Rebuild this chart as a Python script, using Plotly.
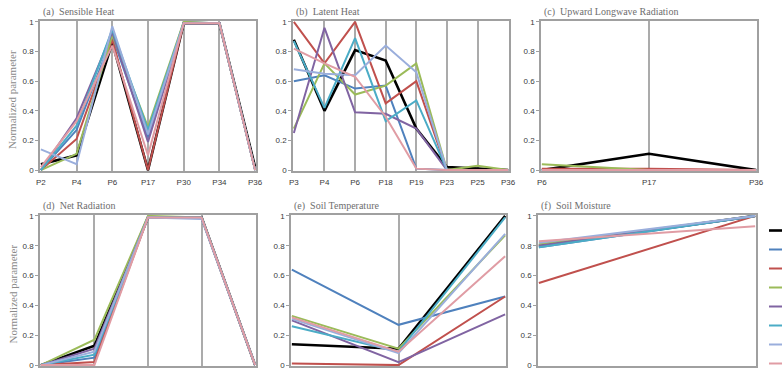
import plotly.graph_objects as go

# ---------------- data ----------------
# legend labels are cut off in the reference, so entries carry no visible text
series_names = ["", " ", "  ", "   ", "    ", "     ", "      ", "       "]
series_colors = ["#000000", "#4F81BD", "#C0504D", "#9BBB59",
                 "#8064A2", "#4BACC6", "#9AAEDC", "#E09CA4"]

cats_a = ["P2", "P4", "P6", "P17", "P30", "P34", "P36"]
sensible_heat = [
    [0.04, 0.10, 0.86, 0.00, 0.99, 0.99, 0.02],
    [0.00, 0.27, 0.90, 0.22, 1.00, 0.99, 0.00],
    [0.00, 0.21, 0.88, 0.00, 0.99, 0.99, 0.00],
    [0.00, 0.11, 0.91, 0.29, 1.00, 0.99, 0.00],
    [0.00, 0.35, 0.93, 0.19, 0.99, 0.99, 0.00],
    [0.00, 0.30, 0.95, 0.27, 0.99, 0.99, 0.00],
    [0.14, 0.04, 0.97, 0.24, 0.99, 0.99, 0.00],
    [0.02, 0.33, 0.84, 0.10, 0.99, 0.99, 0.00],
]

cats_b = ["P3", "P4", "P6", "P18", "P19", "P23", "P25", "P36"]
latent_heat = [
    [0.88, 0.40, 0.81, 0.74, 0.28, 0.02, 0.01, 0.00],
    [0.60, 0.64, 0.55, 0.57, 0.01, 0.00, 0.00, 0.00],
    [1.00, 0.72, 1.00, 0.45, 0.60, 0.00, 0.00, 0.00],
    [0.28, 0.72, 0.51, 0.57, 0.72, 0.00, 0.03, 0.00],
    [0.25, 0.96, 0.39, 0.38, 0.28, 0.00, 0.00, 0.00],
    [0.87, 0.42, 0.89, 0.33, 0.47, 0.00, 0.00, 0.00],
    [0.68, 0.65, 0.64, 0.84, 0.66, 0.00, 0.00, 0.00],
    [0.82, 0.72, 0.63, 0.36, 0.01, 0.00, 0.00, 0.00],
]

cats_c = ["P6", "P17", "P36"]
upward_longwave = [
    [0.00, 0.11, 0.00],
    [0.00, 0.00, 0.00],
    [0.01, 0.01, 0.00],
    [0.04, 0.00, 0.00],
    [0.00, 0.00, 0.00],
    [0.00, 0.00, 0.00],
    [0.00, 0.00, 0.00],
    [0.00, 0.00, 0.00],
]

cats_d = ["P2", "P17", "P30", "P34", "P36"]
net_radiation = [
    [0.00, 0.13, 0.99, 0.99, 0.00],
    [0.00, 0.05, 0.99, 0.99, 0.00],
    [0.00, 0.02, 0.99, 0.99, 0.00],
    [0.00, 0.17, 1.00, 0.99, 0.00],
    [0.00, 0.11, 0.99, 0.99, 0.00],
    [0.00, 0.07, 0.99, 0.99, 0.00],
    [0.00, 0.09, 0.99, 0.98, 0.00],
    [0.00, 0.00, 0.99, 0.99, 0.00],
]

cats_e = ["P3", "P6", "P36"]
soil_temperature = [
    [0.14, 0.11, 1.00],
    [0.64, 0.27, 0.46],
    [0.01, 0.00, 0.46],
    [0.33, 0.11, 0.87],
    [0.30, 0.02, 0.34],
    [0.26, 0.09, 0.99],
    [0.31, 0.08, 0.88],
    [0.32, 0.09, 0.73],
]

cats_f = ["P3", "P6"]
soil_moisture = [
    [0.80, 1.00],
    [0.79, 1.00],
    [0.55, 1.00],
    [0.81, 1.00],
    [0.80, 1.00],
    [0.79, 1.00],
    [0.82, 1.00],
    [0.83, 0.93],
]

panel_titles = ["(a)  Sensible Heat", "(b)  Latent Heat",
                "(c)  Upward Longwave Radiation", "(d)  Net Radiation",
                "(e)  Soil Temperature", "(f)  Soil Moisture"]
y_ticks = [0, 0.2, 0.4, 0.6, 0.8, 1]
y_ticktext = ["0", "0.2", "0.4", "0.6", "0.8", "1"]

# ---------------- layout geometry (pixels) ----------------
W, H = 782, 375
panels = [
    (cats_a, sensible_heat, (40, 256), (21, 171)),
    (cats_b, latent_heat, (293, 509), (21, 171)),
    (cats_c, upward_longwave, (541, 757), (21, 171)),
    (cats_d, net_radiation, (40, 256), (215, 366)),
    (cats_e, soil_temperature, (291, 506), (215, 366)),
    (cats_f, soil_moisture, (538, 756), (215, 366)),
]

fig = go.Figure()
layout = dict(
    width=W, height=H,
    margin=dict(l=0, r=0, t=0, b=0, autoexpand=False),
    paper_bgcolor="white", plot_bgcolor="white",
    showlegend=True,
    legend=dict(x=764 / W, y=1 - 216 / H, xanchor="left", yanchor="top",
                font=dict(family="Liberation Sans", size=6, color="#333"),
                bgcolor="rgba(0,0,0,0)", itemwidth=30, tracegroupgap=0),
)
annotations = []
tick_font = dict(family="Liberation Sans", size=8, color="#3a3a3a")

for i, (cats, data, (x0, x1), (ytop, ybot)) in enumerate(panels):
    n = i + 1
    xa = "x" if n == 1 else f"x{n}"
    ya = "y" if n == 1 else f"y{n}"
    for s, vals in enumerate(data):
        fig.add_trace(go.Scatter(
            x=cats, y=vals, mode="lines", xaxis=xa, yaxis=ya,
            name=series_names[s], legendgroup=f"g{s}",
            showlegend=(i == 0),
            line=dict(color=series_colors[s], width=2.6 if s == 0 else 2.0),
        ))
    layout[f"xaxis{'' if n == 1 else n}"] = dict(
        domain=[x0 / W, x1 / W], anchor=ya,
        type="category", categoryorder="array", categoryarray=cats,
        range=[-0.004 * (len(cats) - 1), (len(cats) - 1) * 1.004],
        showgrid=True, gridcolor="#ababab", gridwidth=1.5,
        showline=True, linecolor="#a0a0a0", linewidth=1.5, mirror=True,
        ticks="", tickfont=tick_font, zeroline=False, fixedrange=True,
        ticklabelstandoff=3,
    )
    layout[f"yaxis{'' if n == 1 else n}"] = dict(
        domain=[1 - ybot / H, 1 - ytop / H], anchor=xa,
        range=[-0.006, 1.006],
        tickvals=y_ticks, ticktext=y_ticktext,
        showgrid=False, zeroline=False,
        showline=True, linecolor="#a0a0a0", linewidth=1.5, mirror=True,
        ticks="outside", ticklen=3, tickcolor="#a0a0a0", tickwidth=1,
        tickfont=tick_font, fixedrange=True,
    )
    annotations.append(dict(
        text=panel_titles[i], xref="paper", yref="paper",
        x=(x0 + 1) / W, y=1 - (ytop - 9) / H, xanchor="left", yanchor="middle",
        showarrow=False,
        font=dict(family="Liberation Serif", size=10, color="#6e6e6e"),
    ))
    if x0 < 100:
        annotations.append(dict(
            text="Normalized parameter", xref="paper", yref="paper",
            x=12 / W, y=1 - ((ytop + ybot) / 2 + 4) / H, textangle=-90,
            xanchor="center", yanchor="middle", showarrow=False,
            font=dict(family="Liberation Serif", size=11, color="#8a8a8a"),
        ))

layout["annotations"] = annotations
fig.update_layout(**layout)
fig.write_html("out.html")
